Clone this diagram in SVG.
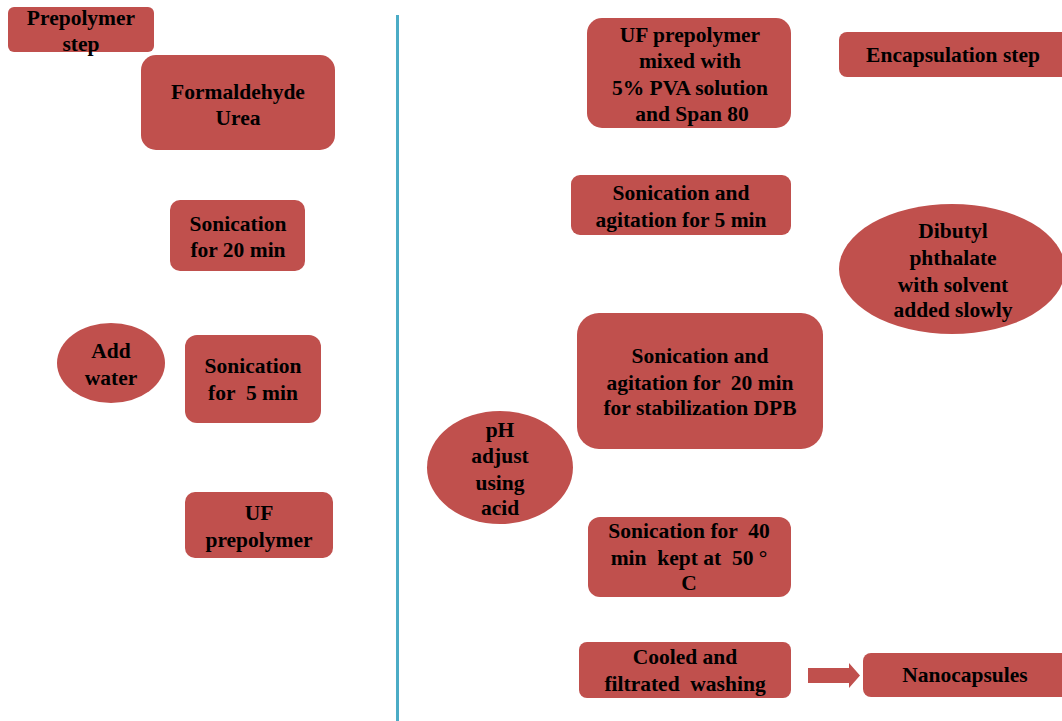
<svg xmlns="http://www.w3.org/2000/svg" width="1062" height="721" viewBox="0 0 1062 721">
<style>
.n{fill:#C0504D;}
.t{font-family:"Liberation Serif","Times New Roman",serif;font-weight:bold;font-size:21.5px;fill:#000;text-anchor:middle;white-space:pre;}
.div{stroke:#4BACC6;stroke-width:3;fill:none;}
</style>
<rect width="1062" height="721" fill="#fff"/>
<line class="div" x1="397.5" y1="15" x2="397.5" y2="721"/>

<g id="prepolymer-step">
<rect class="n" x="8" y="7" width="146" height="45" rx="6"/>
<text class="t" x="81" y="25">Prepolymer</text>
<text class="t" x="81" y="51">step</text>
</g>
<g id="formaldehyde-urea">
<rect class="n" x="141" y="55" width="194" height="95" rx="15"/>
<text class="t" x="238" y="99">Formaldehyde</text>
<text class="t" x="238" y="125">Urea</text>
</g>
<g id="sonication-20">
<rect class="n" x="170" y="200" width="135" height="71" rx="10"/>
<text class="t" x="238" y="231">Sonication</text>
<text class="t" x="238" y="257">for 20 min</text>
</g>
<g id="add-water">
<ellipse class="n" cx="111" cy="363" rx="54" ry="40"/>
<text class="t" x="111" y="358">Add</text>
<text class="t" x="111" y="385">water</text>
</g>
<g id="sonication-5">
<rect class="n" x="185" y="335" width="136" height="88" rx="12"/>
<text class="t" x="253" y="373">Sonication</text>
<text class="t" x="253" y="400">for  5 min</text>
</g>
<g id="uf-prepolymer">
<rect class="n" x="185" y="492" width="148" height="66" rx="10"/>
<text class="t" x="259" y="520">UF</text>
<text class="t" x="259" y="547">prepolymer</text>
</g>

<g id="uf-mixed">
<rect class="n" x="587" y="18" width="204" height="110" rx="15"/>
<text class="t" x="690" y="42">UF prepolymer</text>
<text class="t" x="690" y="68">mixed with</text>
<text class="t" x="690" y="95">5% PVA solution</text>
<text class="t" x="692" y="121">and Span 80</text>
</g>
<g id="encapsulation-step">
<rect class="n" x="839" y="32" width="240" height="45" rx="8"/>
<text class="t" x="953" y="62">Encapsulation step</text>
</g>
<g id="sonication-agitation-5">
<rect class="n" x="571" y="175" width="220" height="60" rx="9"/>
<text class="t" x="681" y="200">Sonication and</text>
<text class="t" x="681" y="227">agitation for 5 min</text>
</g>
<g id="dibutyl">
<ellipse class="n" cx="952" cy="269" rx="113" ry="65"/>
<text class="t" x="953" y="238">Dibutyl</text>
<text class="t" x="953" y="265">phthalate</text>
<text class="t" x="953" y="292">with solvent</text>
<text class="t" x="953" y="317">added slowly</text>
</g>
<g id="sonication-agitation-20">
<rect class="n" x="577" y="313" width="246" height="136" rx="22"/>
<text class="t" x="700" y="363">Sonication and</text>
<text class="t" x="700" y="390">agitation for  20 min</text>
<text class="t" x="700" y="415">for stabilization DPB</text>
</g>
<g id="ph-adjust">
<ellipse class="n" cx="500" cy="467.5" rx="73" ry="56.5"/>
<text class="t" x="500" y="437">pH</text>
<text class="t" x="500" y="463">adjust</text>
<text class="t" x="500" y="490">using</text>
<text class="t" x="500" y="515">acid</text>
</g>
<g id="sonication-40">
<rect class="n" x="588" y="517" width="203" height="80" rx="12"/>
<text class="t" x="689" y="538">Sonication for  40</text>
<text class="t" x="689" y="565">min  kept at  50 °</text>
<text class="t" x="689" y="590">C</text>
</g>
<g id="cooled">
<rect class="n" x="579" y="642" width="212" height="56" rx="8"/>
<text class="t" x="685" y="664">Cooled and</text>
<text class="t" x="685" y="691">filtrated  washing</text>
</g>
<g id="nanocapsules">
<rect class="n" x="863" y="653" width="220" height="44" rx="8"/>
<text class="t" x="965" y="682">Nanocapsules</text>
</g>

<g id="connectors">
<polygon class="n" points="808,668 849,668 849,663 860,675.5 849,688 849,683 808,683"/>
</g>
</svg>
